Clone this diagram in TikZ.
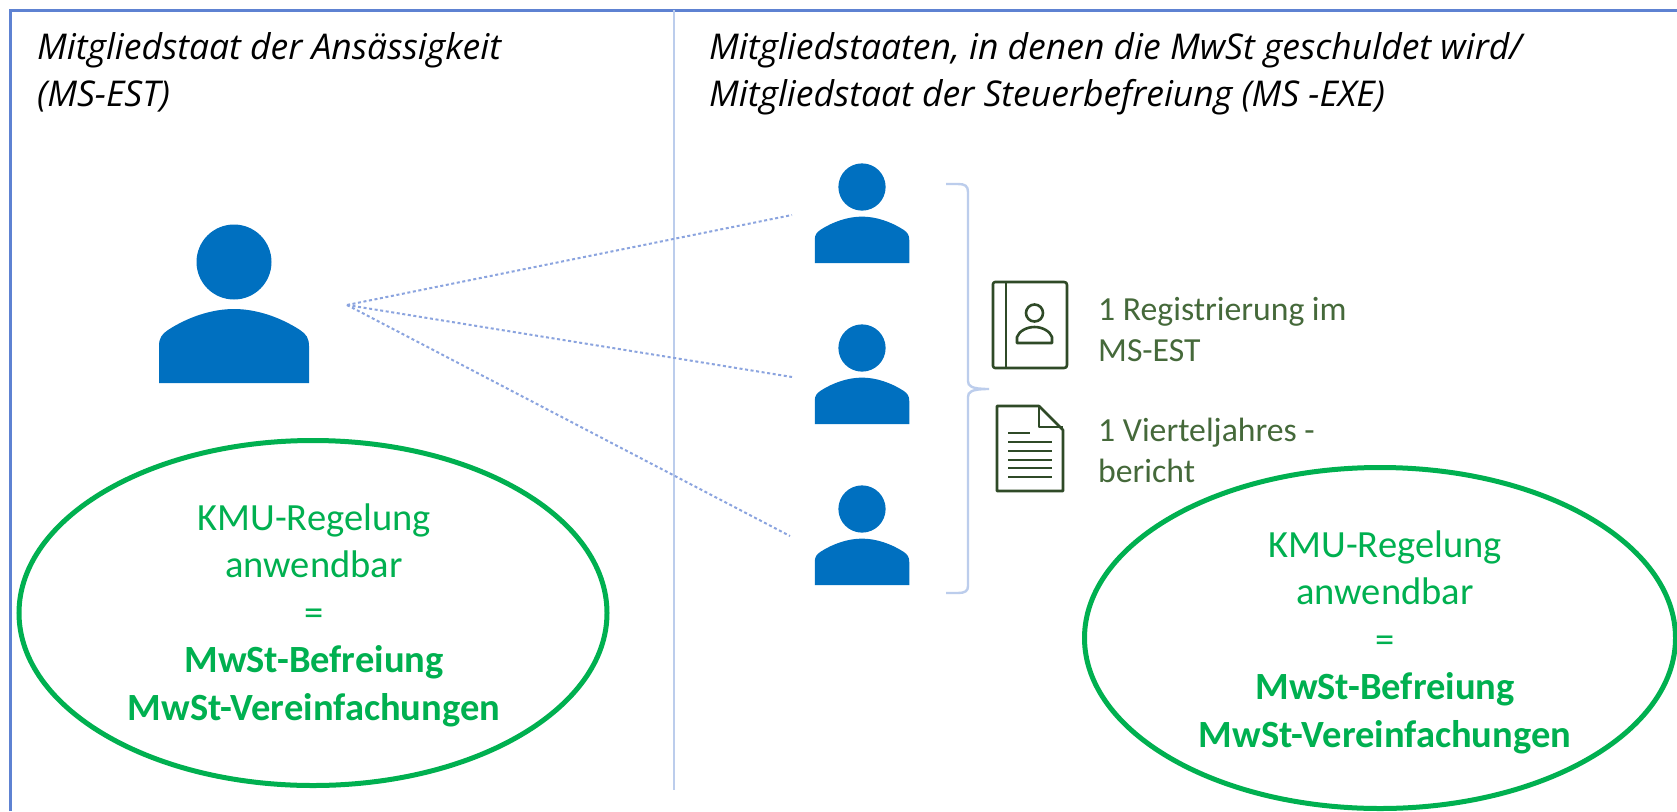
\documentclass[tikz,border=0pt]{standalone}
\usepackage{fontspec}
\setmainfont{Carlito}
\newfontfamily\headfont{Open Sans}
\usetikzlibrary{shapes.geometric}
\definecolor{framecol}{HTML}{5E82D2}
\definecolor{dividercol}{HTML}{BCCDEC}
\definecolor{dotcol}{HTML}{8BA4DF}
\definecolor{personcol}{HTML}{0070C0}
\definecolor{greenring}{HTML}{00B050}
\definecolor{darkgreen}{HTML}{45693A}
\definecolor{iconcol}{HTML}{2F4A27}
\tikzset{
  x=1pt,y=-1pt,
  heading/.style={anchor=north west,inner sep=0pt,align=left,text=black,font=\headfont\itshape\fontsize{35.5}{47.5}\selectfont},
  ring/.style={draw=greenring,line width=5pt,ellipse,inner sep=0pt},
  ringtext/.style={anchor=center,inner sep=0pt,align=center,text=greenring,font=\fontsize{38.5}{47.5}\selectfont},
  notetext/.style={anchor=north west,inner sep=0pt,align=left,text=darkgreen,font=\fontsize{33.7}{41}\selectfont},
  dotline/.style={draw=dotcol,line width=2pt,dash pattern=on 3pt off 2.6pt},
  icon/.style={draw=iconcol,line width=2.6pt,line join=round},
  person/.pic={
    \fill[personcol] (0,0) circle (37.5);
    \fill[personcol] (-75,121) -- (-75,84) .. controls (-75,76) and (-72,72) .. (-66,68)
      .. controls (-46,55) and (-22,47) .. (0,47)
      .. controls (22,47) and (46,55) .. (66,68)
      .. controls (72,72) and (75,76) .. (75,84) -- (75,121) -- cycle;
  }
}
\begin{document}
\begin{tikzpicture}
\useasboundingbox (0,0) rectangle (1677,811);
\fill[white] (0,0) rectangle (1677,811);
% frame and divider
\coordinate (fa) at (10,811);
\coordinate (fb) at (10,10);
\coordinate (fc) at (1677,10);
\draw[framecol,line width=3pt] (fa) -- (fb) -- (fc);
\coordinate (da) at (674,10);
\coordinate (db) at (674,790);
\draw[dividercol,line width=2.6pt] (da) -- (db);
% headings
\node[heading] (h1) at (37,32) {Mitgliedstaat der Ansässigkeit\\(MS-EST)};
\node[heading] (h2) at (709,32) {Mitgliedstaaten, in denen die MwSt geschuldet wird/\\Mitgliedstaat der Steuerbefreiung (MS -EXE)};
% persons
\pic at (234,262) {person};
\pic[scale=.63] at (862,187) {person};
\pic[scale=.63] at (862,348) {person};
\pic[scale=.63] at (862,509) {person};
% dotted connectors
\coordinate (src) at (347,305);
\coordinate (t1) at (792,215);
\coordinate (t2) at (792,377);
\coordinate (t3) at (790,536);
\draw[dotline] (src) -- (t1);
\draw[dotline] (src) -- (t2);
\draw[dotline] (src) -- (t3);
% brace
\coordinate (ba) at (946,184);
\coordinate (bb) at (946,593);
\coordinate (bt) at (989,389);
\draw[dividercol,line width=2.4pt]
  (ba) -- (958,184) .. controls (965,184) and (968,186) .. (968,192)
  -- (968,381) .. controls (968,386) and (971,389) .. (bt)
  (bt) .. controls (971,389) and (968,392) .. (968,397)
  -- (968,586) .. controls (968,591) and (965,593) .. (958,593) -- (bb);
% book icon
\draw[icon] (995,282) -- (1064,282) .. controls (1066,282) and (1067,283) .. (1067,285)
  -- (1067,365) .. controls (1067,367) and (1066,368) .. (1064,368) -- (995,368)
  .. controls (994,368) and (993,367) .. (993,366) -- (993,284) .. controls (993,283) and (994,282) .. (995,282) -- cycle;
\draw[icon] (1006,282) -- (1006,368);
\draw[icon] (1034.5,313) circle (8.5);
\draw[icon] (1017,343) -- (1017,337) .. controls (1019,331) and (1027,327) .. (1034.5,327)
  .. controls (1042,327) and (1050,331) .. (1052,337) -- (1052,343) -- cycle;
% document icon
\draw[icon] (997,406) -- (1039,406) -- (1063,430) -- (1063,491) -- (997,491) -- cycle;
\draw[icon] (1039,406) -- (1039,427) -- (1063,427);
\draw[icon] (1008,433) -- (1030,433);
\foreach \yy in {442,451,460,468,477} \draw[icon] (1008,\yy) -- (1052,\yy);
% notes
\node[notetext] (n1) at (1098,297) {1 Registrierung im\\MS-EST};
\node[notetext] (n2) at (1098,418) {1 Vierteljahres -\\bericht};
% ellipses
\node[ring,minimum width=588pt,minimum height=345pt] (e1) at (313,613) {};
\node[ring,minimum width=591pt,minimum height=341pt] (e2) at (1380,638) {};
\node[ringtext] (t1a) at (314,615) {KMU-Regelung\\anwendbar\\=\\\textbf{MwSt-Befreiung}\\\textbf{MwSt-Vereinfachungen}};
\node[ringtext] (t2a) at (1385,642) {KMU-Regelung\\anwendbar\\=\\\textbf{MwSt-Befreiung}\\\textbf{MwSt-Vereinfachungen}};
\end{tikzpicture}
\end{document}
